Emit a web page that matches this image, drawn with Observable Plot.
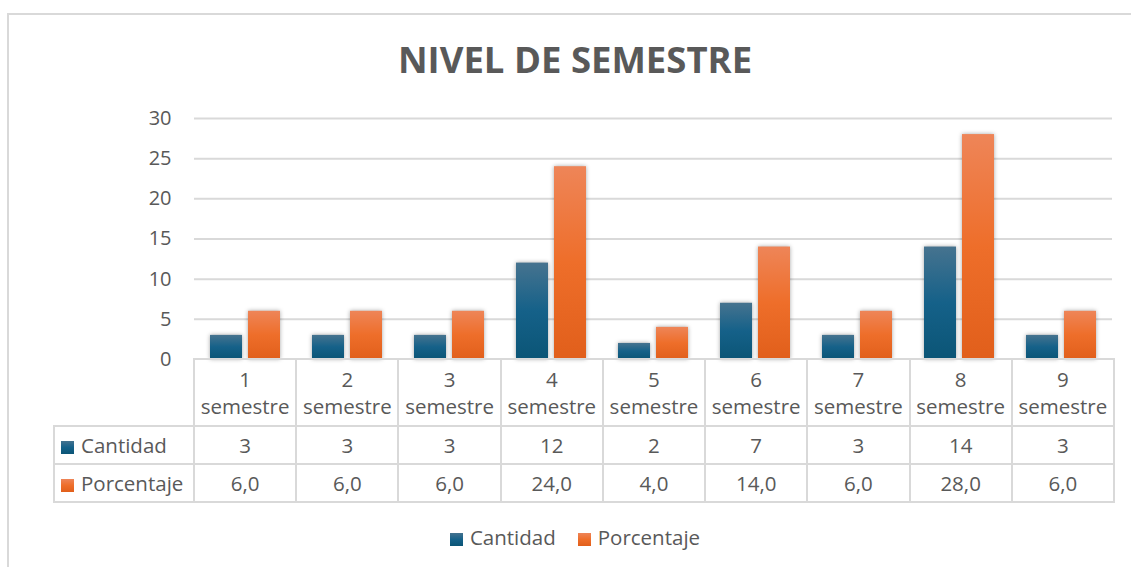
<!DOCTYPE html>
<html><head><meta charset="utf-8">
<script src="https://cdn.jsdelivr.net/npm/d3@7"></script>
<script src="https://cdn.jsdelivr.net/npm/@observablehq/plot@0.6"></script>
<style>
body{margin:0;background:#fff;font-family:"Open Sans",sans-serif;color:#595959}
#wrap{position:relative;width:1131px;height:567px;overflow:hidden;background:#fff}
#frame{position:absolute;left:7px;top:13px;width:1140px;height:600px;border:2px solid #d9d9d9;box-sizing:border-box}
#title{position:absolute;top:34px;left:7px;width:1136px;text-align:center;font-size:36.5px;font-weight:700;color:#595959;line-height:50px}
#chart{position:absolute;left:0;top:0}
#chart svg{overflow:visible}
#chart svg g[aria-label="bar"] rect{filter:drop-shadow(0px 0px 2px rgba(0,0,0,0.35))}
#tbl{position:absolute;left:53px;top:358px;border-collapse:collapse;table-layout:fixed;font-size:20.5px;color:#595959}
#tbl td{border:2px solid #d9d9d9;text-align:center;padding:0;white-space:nowrap}
#tbl td.corner{border-top:none;border-left:none}
#tbl td.lab{text-align:left;padding-left:6px}
.sq{display:inline-block;width:13px;height:13px;margin-right:7px;vertical-align:-1px}
.sqb{background:linear-gradient(#44728f,#156189 50%,#0b5576)}
.sqo{background:linear-gradient(#ee8558,#ee6e2a 50%,#e15f1b)}
#legend{position:absolute;top:522px;left:7px;width:1136px;text-align:center;font-size:20.5px;line-height:30px}
#legend span.item{margin:0 11px}
</style></head>
<body><div id="wrap"><div id="frame"></div><div id="title">NIVEL DE SEMESTRE</div><div id="chart"></div><table id="tbl"></table><div id="legend"></div></div>
<script>
const categorias = ["1 semestre","2 semestre","3 semestre","4 semestre","5 semestre","6 semestre","7 semestre","8 semestre","9 semestre"];
const cantidad = [3,3,3,12,2,7,3,14,3];
const porcentaje = [6,6,6,24,4,14,6,28,6];
const porcentajeTexto = ["6,0","6,0","6,0","24,0","4,0","14,0","6,0","28,0","6,0"];
const series = ["Cantidad","Porcentaje"];
const yTicks = [0,5,10,15,20,25,30];
const gridTicks = [5,10,15,20,25,30];

const data = categorias.flatMap((c,i)=>[
  {cat:c, serie:series[0], valor:cantidad[i]},
  {cat:c, serie:series[1], valor:porcentaje[i]}
]);

const ML = 193, MR = 18, W = 1131;
const plot = Plot.plot({
  width: W, height: 385,
  marginLeft: ML, marginRight: MR, marginTop: 118, marginBottom: 26,
  style: {fontFamily:"Open Sans, sans-serif", fontSize:"20px", color:"#595959", background:"transparent"},
  fx: {domain: categorias, padding: 0, axis: null, label: null},
  x: {domain: series, paddingInner: 0.154, paddingOuter: 0.387, axis: null},
  y: {domain: [0,30], label: null},
  marks: [
    Plot.ruleY(gridTicks, {stroke:"#d9d9d9", strokeWidth:2}),
    Plot.axisY(yTicks, {tickSize:0, tickPadding:23, fontSize:20, fill:"#595959", label:null}),
    Plot.barY(data.filter(d=>d.serie===series[0]), {fx:"cat", x:"serie", y:"valor", fill:"url(#gBlue)"}),
    Plot.barY(data.filter(d=>d.serie===series[1]), {fx:"cat", x:"serie", y:"valor", fill:"url(#gOrange)"})
  ]
});
const defs = d3.select(plot).insert("defs", ":first-child");
function grad(id, stops){
  const g = defs.append("linearGradient").attr("id", id).attr("x1",0).attr("y1",0).attr("x2",0).attr("y2",1);
  stops.forEach(([o,c])=>g.append("stop").attr("offset",o).attr("stop-color",c));
}
grad("gBlue", [[0,"#46738f"],[0.5,"#156189"],[1,"#0b5576"]]);
grad("gOrange", [[0,"#ee8558"],[0.5,"#ee6e2a"],[1,"#e15f1b"]]);
document.getElementById("chart").appendChild(plot);

// data table aligned with the plot's category band
const colW = (W - ML - MR) / categorias.length;
const tbl = d3.select("#tbl");
const cg = tbl.append("colgroup");
cg.append("col").style("width", (ML-53)+"px");
categorias.forEach(()=>cg.append("col").style("width", colW+"px"));
const h = tbl.append("tr").style("height","67px");
h.append("td").attr("class","corner");
categorias.forEach(c=>{
  const [n, s] = c.split(" ");
  h.append("td").style("line-height","27px").html(n+"<br>"+s);
});
const r1 = tbl.append("tr").style("height","38px");
r1.append("td").attr("class","lab").html('<span class="sq sqb"></span>'+series[0]);
cantidad.forEach(v=>r1.append("td").text(v));
const r2 = tbl.append("tr").style("height","38px");
r2.append("td").attr("class","lab").html('<span class="sq sqo"></span>'+series[1]);
porcentajeTexto.forEach(v=>r2.append("td").text(v));

d3.select("#legend").html(
  '<span class="item"><span class="sq sqb"></span>'+series[0]+'</span><span class="item"><span class="sq sqo"></span>'+series[1]+'</span>'
);
</script></body></html>
